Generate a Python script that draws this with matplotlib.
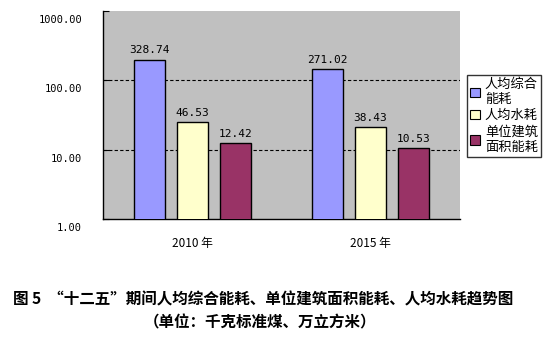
import matplotlib.pyplot as plt
import matplotlib.transforms as mtransforms
from matplotlib.patches import Patch
import numpy as np

plt.rcParams['font.family'] = ['Noto Sans CJK SC', 'DejaVu Sans']

years = ['2010 年', '2015 年']
series = ['人均综合\n能耗', '人均水耗', '单位建筑\n面积能耗']
colors = ['#9999FF', '#FFFFCC', '#993366']
# printed data labels
label_values = [[328.74, 271.02], [46.53, 38.43], [12.42, 10.53]]
# bar heights as drawn on the log axis
bar_heights = [[199.0, 143.0], [24.6, 20.9], [12.3, 10.4]]
yticks = [1, 10, 100, 1000]

fig = plt.figure(figsize=(5.6, 3.4), dpi=100)
ax = fig.add_axes([0.184, 0.356, 0.637, 0.612])
ax.set_facecolor('#C0C0C0')
ax.set_yscale('log')
ax.set_ylim(1, 1000)
ax.set_xlim(-0.5, 1.5)

x = np.arange(len(years))
width = 0.174
step = 0.241
for i in range(len(series)):
    xs = x + (i - 1) * step
    ax.bar(xs, bar_heights[i], width=width, color=colors[i],
           edgecolor='black', linewidth=1, zorder=3)
    for xi, h, v in zip(xs, bar_heights[i], label_values[i]):
        ax.annotate(f'{v:.2f}', (xi, h), xytext=(0, 3), textcoords='offset points',
                    ha='center', va='bottom', fontsize=8, family='DejaVu Sans Mono')

for g in [10, 100]:
    ax.axhline(g, color='black', linestyle=(0, (3, 2)), linewidth=0.8, zorder=1)

ax.set_yticks(yticks)
ax.set_yticklabels([f'{t:.2f}' for t in yticks], family='DejaVu Sans Mono', fontsize=7.5)
ax.yaxis.set_minor_locator(plt.NullLocator())
ax.tick_params(axis='y', direction='in', length=4, pad=15)
offset = mtransforms.ScaledTranslation(0, -8 / 100, fig.dpi_scale_trans)
for lbl in ax.get_yticklabels():
    lbl.set_transform(lbl.get_transform() + offset)

ax.set_xticks(x)
ax.set_xticklabels(years, fontsize=8.5)
ax.tick_params(axis='x', length=0, pad=13)

for s in ['top', 'right']:
    ax.spines[s].set_visible(False)
for s in ['left', 'bottom']:
    ax.spines[s].set_linewidth(1)

handles = [Patch(facecolor=c, edgecolor='black', linewidth=0.8) for c in colors]
fig.legend(handles, series, loc='upper left', bbox_to_anchor=(0.834, 0.78),
           fontsize=9.5, frameon=True, fancybox=False, edgecolor='black',
           handlelength=0.7, handleheight=0.7, handletextpad=0.4,
           borderpad=0.25, labelspacing=0.25, borderaxespad=0)

fig.text(0.47, 0.12, '图 5  “十二五”期间人均综合能耗、单位建筑面积能耗、人均水耗趋势图',
         ha='center', va='center', fontsize=11.2, fontweight='bold')
fig.text(0.465, 0.052, '（单位：千克标准煤、万立方米）',
         ha='center', va='center', fontsize=11.2, fontweight='bold')

fig.savefig('out.png', dpi=100)
